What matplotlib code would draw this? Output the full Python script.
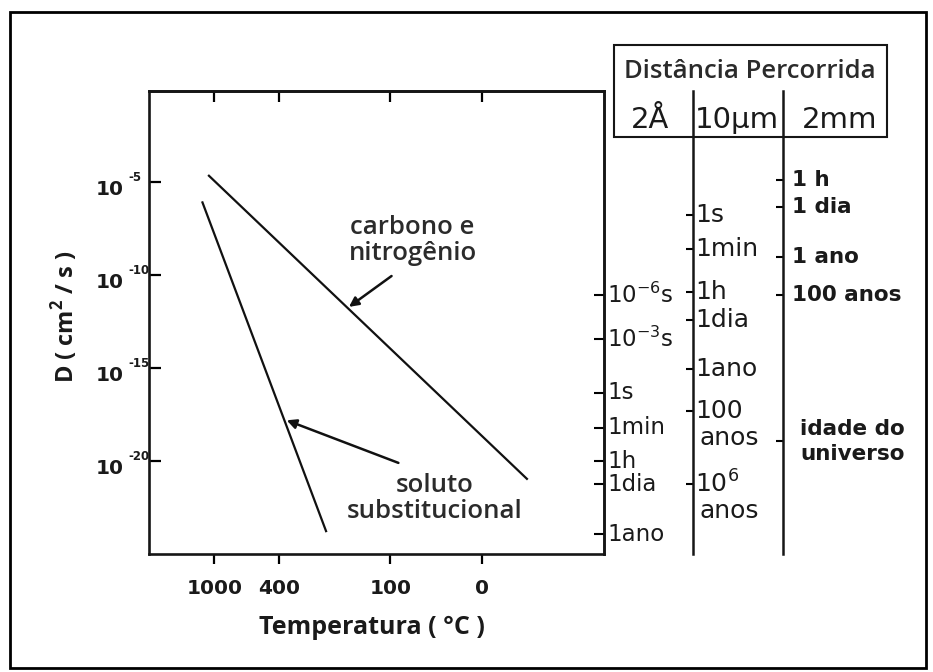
import numpy as np
import matplotlib
matplotlib.use("Agg")
import matplotlib.pyplot as plt
from matplotlib.patches import Rectangle
from matplotlib import transforms

# retas de Arrhenius: temperatura (°C) e D (cm²/s) nas extremidades
temp_carbono = [1100, -32]
D_carbono = [2.2e-5, 1.1e-21]
temp_soluto = [1245, 230]
D_soluto = [8.1e-7, 1.7e-24]

temp_ticks = [1000, 400, 100, 0]
D_expoentes = [-5, -10, -15, -20]

# escalas de tempo para cada distância percorrida (posição em log10 D)
tempos_2A = [r"$\mathregular{10^{-6}s}$", r"$\mathregular{10^{-3}s}$",
             "1s", "1min", "1h", "1dia", "1ano"]
logD_2A = [-11.07, -13.43, -16.34, -18.22, -20.01, -21.26, -23.95]
tempos_10um = ["1s", "1min", "1h", "1dia", "1ano",
               "100\nanos", r"$\mathregular{10^{6}}$" + "\nanos"]
logD_10um = [-6.77, -8.60, -10.89, -12.41, -15.05, -17.33, -21.26]
tempos_2mm = ["1 h", "1 dia", "1 ano", "100 anos", "idade do\nuniverso"]
logD_2mm = [-4.89, -6.36, -9.01, -11.07, -18.94]
distancias = ["2Å", "10µm", "2mm"]


def inv_T(t_c):
    # eixo x em 1000/T (K)
    return 1000.0 / (np.asarray(t_c, dtype=float) + 273.15)


W, H = 933, 672
fig = plt.figure(figsize=(W / 100, H / 100), dpi=100)
fig.patch.set_facecolor("white")

def fx(px):
    return px / W

def fy(py):
    return 1 - py / H

PT = 72 / 100  # pixels -> pontos

ax_l, ax_r, ax_t, ax_b = 149, 603.5, 91, 554
ax = fig.add_axes([fx(ax_l), fy(ax_b), fx(ax_r - ax_l), (ax_b - ax_t) / H])
ax.set_yscale("log")
ax.set_xlim(0.084, 4.97)
ax.set_ylim(1e-25, 10 ** -0.1)

ax.plot(inv_T(temp_carbono), D_carbono, color="#111111", lw=1.6)
ax.plot(inv_T(temp_soluto), D_soluto, color="#111111", lw=1.6)

for s in ax.spines.values():
    s.set_linewidth(1.9)
    s.set_color("#161616")

ax.set_xticks(inv_T(temp_ticks))
ax.set_xticklabels([str(t) for t in temp_ticks], fontsize=14.5,
                   fontweight="bold", family="DejaVu Sans", color="#1a1a1a")
ax.tick_params(axis="x", direction="out", length=7, width=1.6, pad=11,
               top=False)
D_ticks = [10.0 ** e for e in D_expoentes]
ax.set_yticks(D_ticks)
ax.set_yticklabels([])
ax.yaxis.set_minor_locator(matplotlib.ticker.NullLocator())
ax.tick_params(axis="y", direction="in", length=8.5, width=1.6, right=False)

# rótulos do eixo y: base "10" e expoente pequeno afastado
ytr = transforms.blended_transform_factory(ax.transAxes, ax.transData)
for d, e in zip(D_ticks, D_expoentes):
    ax.annotate("10", xy=(0, d), xycoords=ytr, xytext=(-25.5 * PT, -7 * PT),
                textcoords="offset points", ha="right", va="center",
                fontsize=14.5, fontweight="bold", color="#1a1a1a")
    ax.annotate("-%d" % abs(e), xy=(0, d), xycoords=ytr,
                xytext=(-21 * PT, 5 * PT), textcoords="offset points",
                ha="left", va="center", fontsize=8.5, fontweight="bold",
                color="#1a1a1a")

top = ax.secondary_xaxis("top")
top.set_xticks(inv_T(temp_ticks))
top.set_xticklabels([])
top.tick_params(direction="in", length=8, width=1.6)
top.spines["top"].set_linewidth(1.9)

# setas das legendas
seta = dict(arrowstyle="-|>", lw=1.8, color="#111111", mutation_scale=14,
            shrinkA=0, shrinkB=0)
ax.annotate("", xy=(inv_T(174.5), 10 ** -11.71),
            xytext=(inv_T(98.4), 10 ** -10.05), arrowprops=seta)
ax.annotate("", xy=(inv_T(366), 10 ** -17.81),
            xytext=(inv_T(88.5), 10 ** -20.10), arrowprops=seta)

txt = dict(family="Open Sans", fontweight="semibold", fontsize=18.5,
           color="#2b2b2b", ha="center", va="center", linespacing=1.05,
           transform=ax.transAxes)
ax.text(0.580, 0.678, "carbono e\nnitrogênio", **txt)
ax.text(0.6275, 0.119, "soluto\nsubstitucional", **txt)

fig.text(fx(65), fy(317), r"D ( cm$^{\mathregular{2}}$ / s )", rotation=90,
         ha="center", va="center", family="Open Sans", fontweight="bold",
         fontsize=17, color="#1a1a1a")
fig.text(fx(372), fy(627), "Temperatura ( °C )", ha="center", va="center",
         family="Open Sans", fontweight="bold", fontsize=18, color="#1a1a1a")

# colunas de tempo (uma por distância)
colunas = [(603.5, tempos_2A, logD_2A, 7, 2.5, "normal", 16.5),
           (693.3, tempos_10um, logD_10um, 5, 1.5, "normal", 18),
           (783.3, tempos_2mm, logD_2mm, 5, 6, "bold", 15.5)]
for xc, rot, logs, tl, dx, wt, fs in colunas:
    cax = fig.add_axes([fx(xc), fy(ax_b), 1e-6, (ax_b - ax_t) / H])
    cax.set_yscale("log")
    cax.set_ylim(1e-25, 10 ** -0.1)
    cax.patch.set_visible(False)
    for k in ("top", "bottom", "right"):
        cax.spines[k].set_visible(False)
    cax.spines["left"].set_linewidth(1.8)
    cax.spines["left"].set_color("#161616")
    cax.set_xticks([])
    cax.set_yticks([10.0 ** v for v in logs])
    cax.yaxis.set_minor_locator(matplotlib.ticker.NullLocator())
    cax.tick_params(axis="y", direction="out", length=tl, width=1.5,
                    labelleft=False)
    tr = transforms.blended_transform_factory(cax.transAxes, cax.transData)
    estilo = dict(textcoords="offset points", family="DejaVu Sans",
                  fontweight=wt, fontsize=fs, color="#1a1a1a")
    for lab, v in zip(rot, logs):
        if lab.startswith("idade"):
            cax.annotate(lab, xy=(0, 10.0 ** v), xycoords=tr,
                         xytext=(50, 0), ha="center", va="center",
                         linespacing=1.35, **estilo)
            continue
        partes = lab.split("\n")
        cax.annotate(partes[0], xy=(0, 10.0 ** v), xycoords=tr,
                     xytext=(dx, 0), ha="left", va="center", **estilo)
        if len(partes) > 1:
            cax.annotate(partes[1], xy=(0, 10.0 ** v), xycoords=tr,
                         xytext=(dx + 3, -19), ha="left", va="center",
                         **estilo)

# quadro "Distância Percorrida"
fig.add_artist(Rectangle((fx(614), fy(137)), fx(887 - 614), (137 - 45) / H,
                         transform=fig.transFigure, fill=False, lw=1.5,
                         edgecolor="#161616"))
fig.text(fx(750), fy(72), "Distância Percorrida", ha="center", va="center",
         family="Open Sans", fontweight="semibold", fontsize=18.5,
         color="#2b2b2b")
for xc, d in zip([650, 737, 840], distancias):
    fig.text(fx(xc), fy(120), d, ha="center", va="center",
             family="DejaVu Sans", fontsize=21, color="#1a1a1a")

# moldura externa
fig.add_artist(Rectangle((fx(10), fy(668)), fx(916), 656 / H,
                         transform=fig.transFigure, fill=False, lw=2,
                         edgecolor="black"))

fig.savefig("out.png", dpi=100, facecolor="white")
